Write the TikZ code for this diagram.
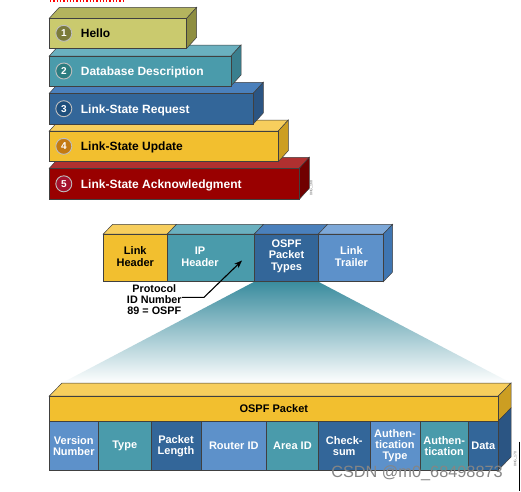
\documentclass[tikz,border=0pt]{standalone}
\usepackage{fontspec}
\setmainfont{Liberation Sans}
\usetikzlibrary{arrows.meta}
\definecolor{olF}{HTML}{CACA6E}
\definecolor{olT}{HTML}{B4B45E}
\definecolor{olS}{HTML}{8E8E40}
\definecolor{olC}{HTML}{7B7B3B}
\definecolor{teF}{HTML}{4A9BAB}
\definecolor{teT}{HTML}{6AB0BF}
\definecolor{teS}{HTML}{3A7F8E}
\definecolor{teC}{HTML}{2D7D80}
\definecolor{blF}{HTML}{336699}
\definecolor{blT}{HTML}{4A80BC}
\definecolor{blS}{HTML}{2B5583}
\definecolor{blC}{HTML}{1F4F7D}
\definecolor{yeF}{HTML}{F2BF2F}
\definecolor{yeT}{HTML}{F7CE5D}
\definecolor{yeS}{HTML}{CC9E22}
\definecolor{yeC}{HTML}{C47A12}
\definecolor{rdF}{HTML}{990000}
\definecolor{rdT}{HTML}{B03030}
\definecolor{rdS}{HTML}{700000}
\definecolor{rdC}{HTML}{A5122E}
\definecolor{lbF}{HTML}{5D91CA}
\definecolor{lbT}{HTML}{7DA8D8}
\definecolor{lbS}{HTML}{3F76B2}
\definecolor{beamC}{HTML}{3A8C9E}
\definecolor{wmC}{HTML}{858585}
\newcommand\msgfont{\bfseries\fontsize{12}{14}\selectfont}
\newcommand\midfont{\bfseries\fontsize{11}{11.6}\selectfont}
\newcommand\fldfont{\bfseries\fontsize{11}{11}\selectfont}
% top face: x1, y, x2, dx, dy, colour
\newcommand\topface[6]{\filldraw[edge,fill=#6] (#1,#2) -- ({#1+#4},{#2-#5}) -- ({#3+#4},{#2-#5}) -- (#3,#2) -- cycle;}
% side face: x, y1, y2, dx, dy, colour
\newcommand\sideface[6]{\filldraw[edge,fill=#6] (#1,#2) -- ({#1+#4},{#2-#5}) -- ({#1+#4},{#3-#5}) -- (#1,#3) -- cycle;}
\begin{document}
\begin{tikzpicture}[x=1pt,y=-1pt,
  edge/.style={draw=black!75,line width=0.5pt},
  numdot/.style={circle,draw=white!75!black,line width=0.9pt,minimum size=16pt,inner sep=0pt,text=white,font=\bfseries\fontsize{10}{10}\selectfont},
  msg/.style={anchor=base west,inner sep=0pt,font=\msgfont},
  mid/.style={align=center,inner sep=0pt,font=\midfont},
  fld/.style={align=center,inner sep=0pt,font=\fldfont,text=white},
  tiny/.style={rotate=90,inner sep=0pt,font=\fontsize{3.5}{4}\selectfont,text=black!60}]
\fill[white] (0,0) rectangle (521,491);
\useasboundingbox (0,0) rectangle (521,491);
\draw[red,line width=1.3pt,dash pattern=on 1.3pt off 2pt] (50,1) -- (125,1);
% ---------- message stack (drawn back to front) ----------
% 5
\topface{49.3}{168.3}{299.3}{10}{11}{rdT}
\sideface{299.3}{168.3}{199.3}{10}{11}{rdS}
\filldraw[edge,fill=rdF] (49.3,168.3) rectangle (299.3,199.3);
% 4
\topface{49.3}{131}{278.3}{10}{11}{yeT}
\sideface{278.3}{131}{161.7}{10}{11}{yeS}
\filldraw[edge,fill=yeF] (49.3,131) rectangle (278.3,161.7);
% 3
\topface{49.3}{93.3}{253.3}{10}{11}{blT}
\sideface{253.3}{93.3}{124}{10}{11}{blS}
\filldraw[edge,fill=blF] (49.3,93.3) rectangle (253.3,124);
% 2
\topface{49.3}{56}{231}{10}{11}{teT}
\sideface{231}{56}{86}{10}{11}{teS}
\filldraw[edge,fill=teF] (49.3,56) rectangle (231,86);
% 1
\topface{49.3}{18.3}{186.7}{10}{11}{olT}
\sideface{186.7}{18.3}{48.3}{10}{11}{olS}
\filldraw[edge,fill=olF] (49.3,18.3) rectangle (186.7,48.3);
\node[numdot,fill=olC] (n1) at (63.8,33.3) {1};
\node[numdot,fill=teC] (n2) at (63.8,71) {2};
\node[numdot,fill=blC] (n3) at (63.8,108.7) {3};
\node[numdot,fill=yeC] (n4) at (63.8,146.3) {4};
\node[numdot,fill=rdC] (n5) at (63.8,183.8) {5};
\node[msg] (m1) at (80.7,37.6) {Hello};
\node[msg,text=white] (m2) at (80.7,75.3) {Database Description};
\node[msg,text=white] (m3) at (80.7,113) {Link-State Request};
\node[msg] (m4) at (80.7,150.6) {Link-State Update};
\node[msg,text=white] (m5) at (80.7,188.1) {Link-State Acknowledgment};
\node[tiny] (code1) at (311.5,188) {0HG\_168};
% ---------- beam ----------
\shade[top color=beamC,bottom color=white] (254.3,281.7) -- (318.3,281.7) -- (511,383) -- (62,383) -- cycle;
% ---------- OSPF packet ----------
\topface{49.3}{396}{498.3}{12.7}{13}{yeT}
\sideface{498.3}{396}{421}{12.7}{13}{yeS}
\sideface{498.3}{421}{470}{12.7}{13}{blS}
\filldraw[edge,fill=yeF] (49.3,396) rectangle (498.3,421);
\filldraw[edge,fill=lbF] (49.3,421) rectangle (98.3,470);
\filldraw[edge,fill=teF] (98.3,421) rectangle (151,470);
\filldraw[edge,fill=blF] (151,421) rectangle (201,470);
\filldraw[edge,fill=lbF] (201,421) rectangle (266.7,470);
\filldraw[edge,fill=teF] (266.7,421) rectangle (318.3,470);
\filldraw[edge,fill=blF] (318.3,421) rectangle (370,470);
\filldraw[edge,fill=lbF] (370,421) rectangle (420,470);
\filldraw[edge,fill=teF] (420,421) rectangle (468.3,470);
\filldraw[edge,fill=blF] (468.3,421) rectangle (498.3,470);
\node[mid,font=\bfseries\fontsize{11}{12}\selectfont] (ospf) at (273.8,408.5) {OSPF Packet};
\node[fld] (f1) at (73.8,445.7) {Version\\Number};
\node[fld] (f2) at (124.7,445.7) {Type};
\node[fld] (f3) at (176,445.7) {Packet\\Length};
\node[fld] (f4) at (233.8,445.7) {Router ID};
\node[fld] (f5) at (292.5,445.7) {Area ID};
\node[fld] (f6) at (344.2,445.7) {Check-\\sum};
\node[fld] (f7) at (395,446) {Authen-\\tication\\Type};
\node[fld] (f8) at (444.2,445.7) {Authen-\\tication};
\node[fld] (f9) at (483.3,445.7) {Data};
\node[tiny] (code2) at (515.5,459) {0HG\_170};
% ---------- frame ----------
\topface{103.3}{234}{167.3}{9.3}{9.7}{yeT}
\topface{167.3}{234}{254.3}{9.3}{9.7}{teT}
\topface{254.3}{234}{318.3}{9.3}{9.7}{blT}
\topface{318.3}{234}{383.3}{9.3}{9.7}{lbT}
\sideface{383.3}{234}{281.7}{9.3}{9.7}{lbS}
\filldraw[edge,fill=yeF] (103.3,234) rectangle (167.3,281.7);
\filldraw[edge,fill=teF] (167.3,234) rectangle (254.3,281.7);
\filldraw[edge,fill=blF] (254.3,234) rectangle (318.3,281.7);
\filldraw[edge,fill=lbF] (318.3,234) rectangle (383.3,281.7);
\node[mid] (lh) at (135.3,256.5) {Link\\Header};
\node[mid,text=white] (iph) at (200,257) {IP\\Header};
\node[mid,text=white] (opt) at (286.5,256) {OSPF\\Packet\\Types};
\node[mid,text=white] (lt) at (351.5,256.5) {Link\\Trailer};
% ---------- protocol label and arrow ----------
\node[mid,font=\bfseries\fontsize{10.8}{11}\selectfont] (proto) at (154.3,300) {Protocol\\ID Number\\89 = OSPF};
\coordinate (bend) at (204,297.3);
\coordinate (tip) at (242,260.5);
\draw[line width=1.1pt,-{Stealth[length=8pt,width=6pt]}] ([yshift=2.7pt]proto.east) -- (bend) -- (tip);
% ---------- watermark and margin mark ----------
\node[inner sep=0pt,font=\fontsize{16.3}{16}\selectfont,text=wmC] (wm) at (417,473) {CSDN @m0\_68498873};
\coordinate (mk1) at (519.3,441.5);
\coordinate (mk2) at (519.3,491);
\draw[line width=1.5pt] (mk1) -- (mk2);
\end{tikzpicture}
\end{document}
